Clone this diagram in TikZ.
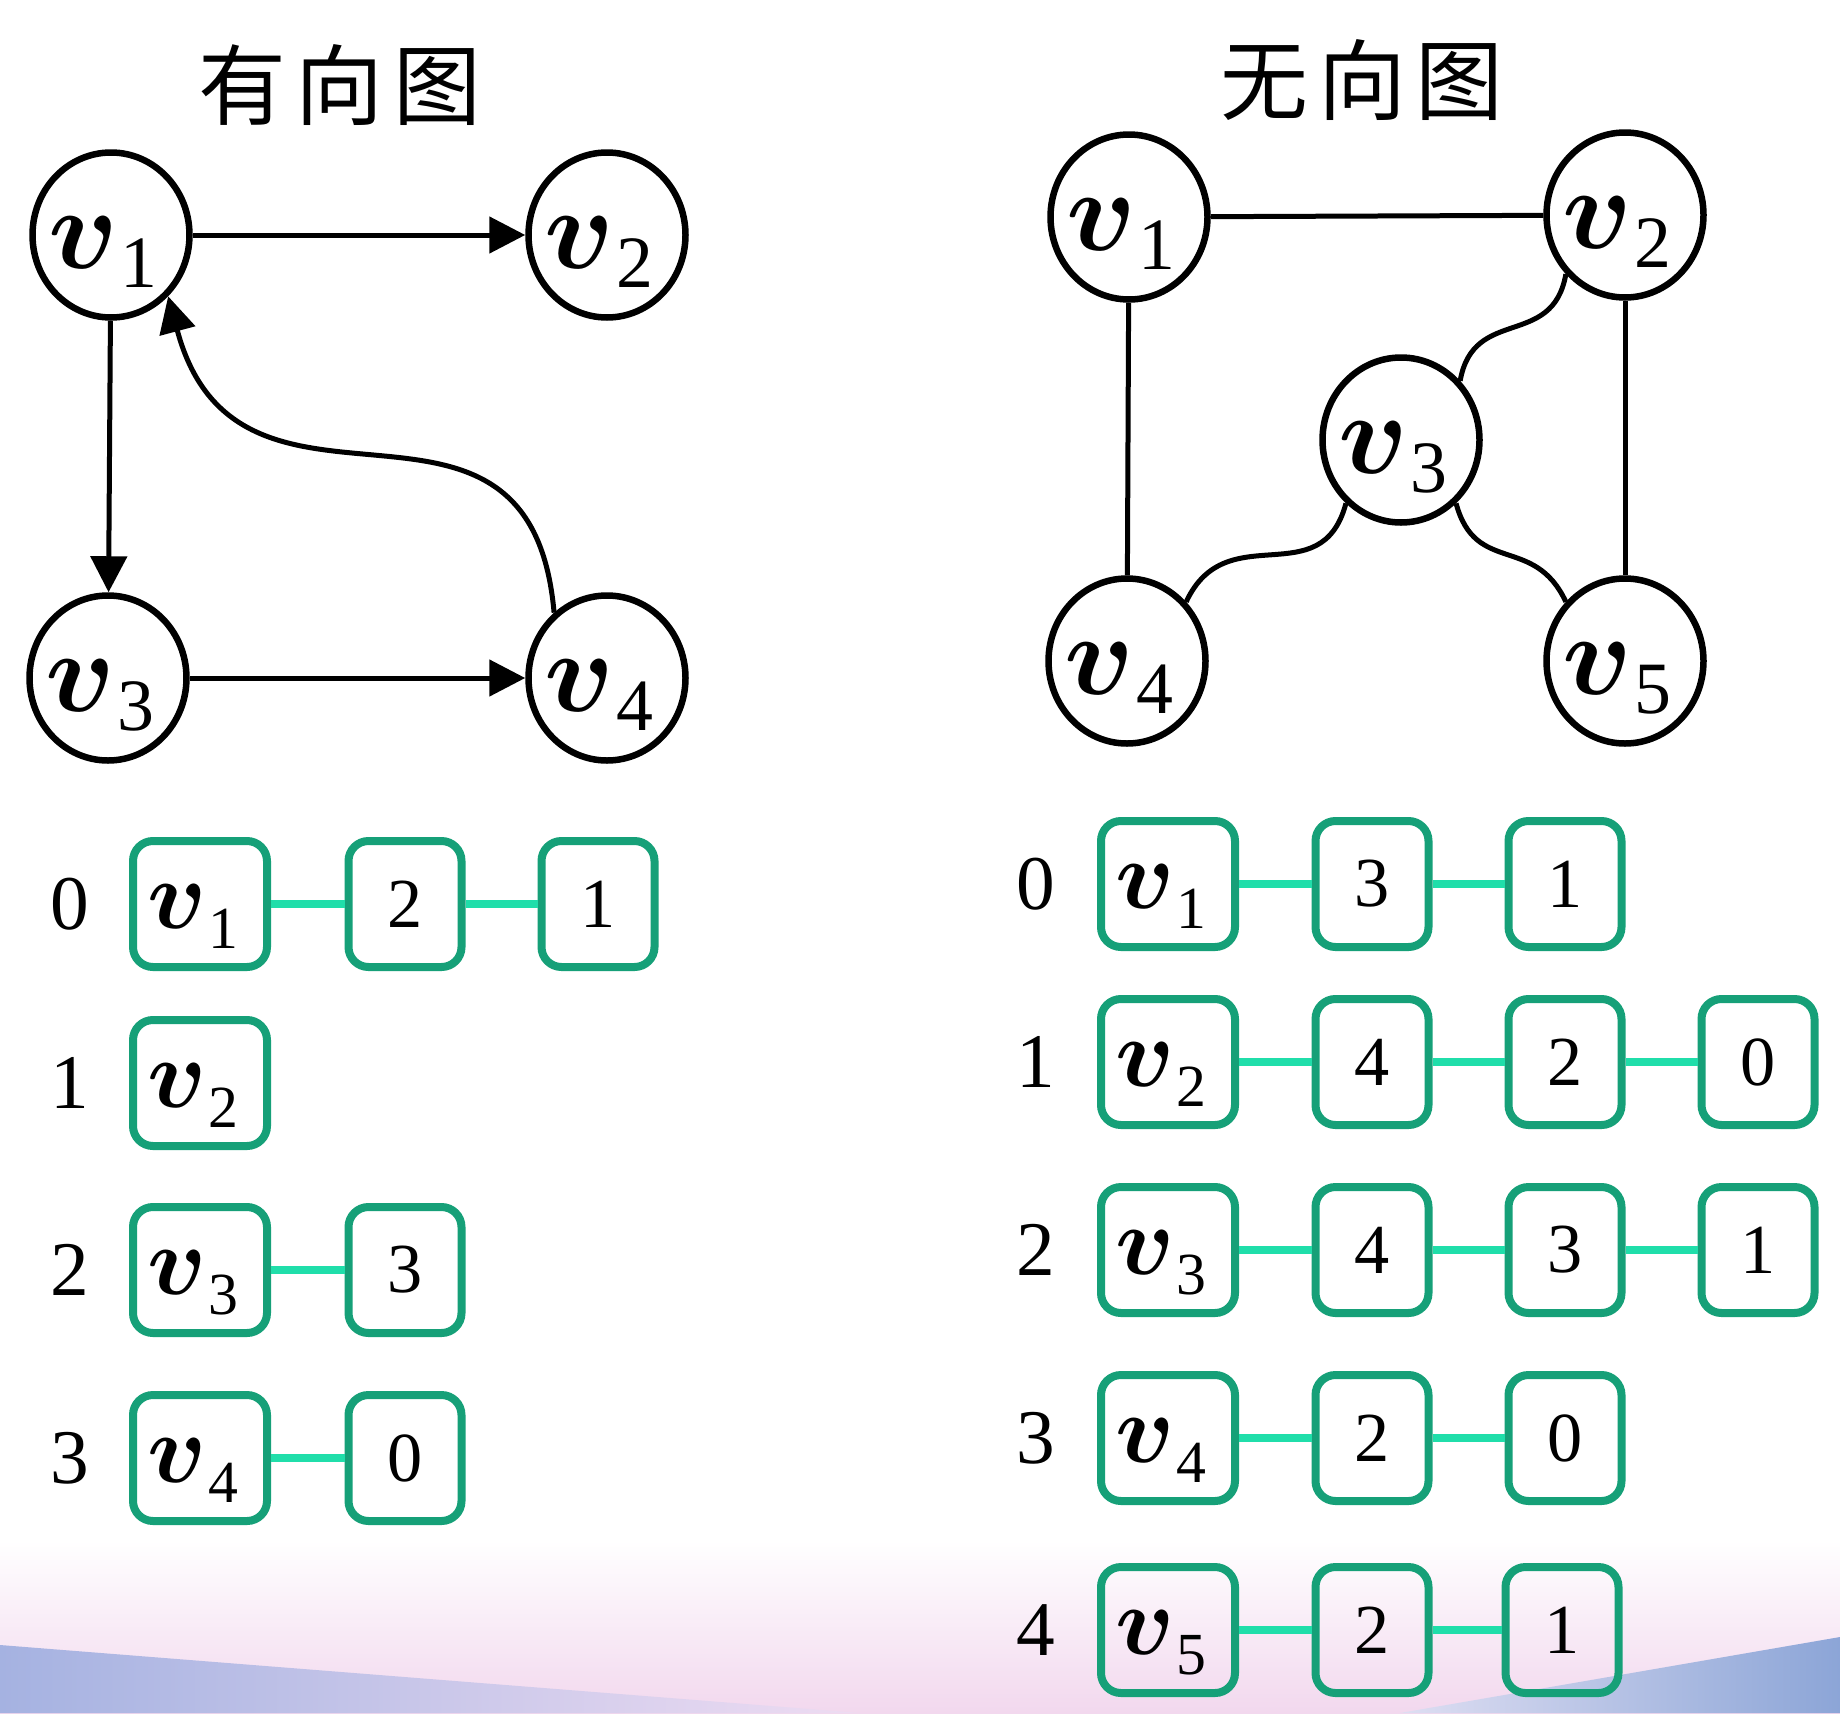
\RequirePackage{fix-cm}
\documentclass[tikz,border=0pt]{standalone}
\usepackage{bm}
\usepackage{fontspec}
\setmainfont{Liberation Serif}
\newfontfamily\cjk{Noto Sans CJK SC}
\usetikzlibrary{shapes.geometric,arrows.meta}
\definecolor{boxgreen}{RGB}{22,160,120}
\definecolor{linkgreen}{RGB}{32,222,170}
\definecolor{bgpink}{RGB}{242,216,238}
\definecolor{wlA}{RGB}{165,178,225}
\definecolor{wlB}{RGB}{238,220,242}
\definecolor{wrA}{RGB}{140,165,215}
\definecolor{wrB}{RGB}{222,222,242}
% graph node label
\newcommand{\gv}[1]{\makebox[0pt][c]{\raisebox{-3.3mm}[0pt][0pt]{%
  {\fontsize{33}{34}\selectfont$\bm{v}$}\kern0.2mm\raisebox{-1.9mm}{\fontsize{21}{22}\selectfont #1}}\hspace{1.6mm}}}
% list box label
\newcommand{\bv}[1]{\makebox[0pt][c]{\raisebox{-2.4mm}[0pt][0pt]{%
  {\fontsize{28}{29}\selectfont$\bm{v}$}\kern0.2mm\raisebox{-2.0mm}{\fontsize{17}{18}\selectfont #1}}\hspace{1.4mm}}}
\begin{document}
\begin{tikzpicture}[x=0.1mm,y=-0.1mm,
  gnode/.style={ellipse,draw,line width=0.65mm,minimum width=15.7mm,minimum height=16.5mm,inner sep=0pt},
  edge/.style={line width=0.5mm},
  arr/.style={edge,-{Triangle[length=3.6mm,width=3.6mm]}},
  hd/.style={inner sep=0pt,font=\fontsize{22}{24}\selectfont},
  vbox/.style={draw=boxgreen,line width=0.8mm,rounded corners=2mm,minimum width=13.4mm,minimum height=12.6mm,inner sep=0pt},
  nbox/.style={vbox,minimum width=11.3mm,font=\fontsize{20}{22}\selectfont},
  link/.style={draw=linkgreen,line width=0.8mm},
  title/.style={inner sep=0pt,font=\cjk\fontsize{25}{28}\selectfont}
]
\useasboundingbox (0,0) rectangle (1840,1713);
% background
\fill[white] (0,0) rectangle (1840,1713);
\shade[top color=white,bottom color=bgpink] (0,1540) rectangle (1840,1713);
\shade[left color=wlA,right color=wlB] (0,1645) -- (860,1713) -- (0,1713) -- cycle;
\shade[left color=wrB,right color=wrA] (1840,1637) -- (1400,1713) -- (1840,1713) -- cycle;

% titles
\node[title] (t1) at (340,85) {有\hspace{1mm}向\hspace{1mm}图};
\node[title] (t2) at (1362,80) {无\hspace{1mm}向\hspace{1mm}图};

% directed graph
\node[gnode] (a1) at (111,235) {\gv1};
\node[gnode] (a2) at (607,235) {\gv2};
\node[gnode] (a3) at (108,678) {\gv3};
\node[gnode] (a4) at (607,678) {\gv4};
\draw[arr] (a1) -- (a2);
\draw[arr] (a1) -- (a3);
\draw[arr] (a3) -- (a4);
\draw[arr] (a4.129) to[out=95,in=-75,looseness=1.4] (a1.-47);

% undirected graph
\node[gnode] (b1) at (1129,217) {\gv1};
\node[gnode] (b2) at (1625,215) {\gv2};
\node[gnode] (b3) at (1401,440) {\gv3};
\node[gnode] (b4) at (1127,661) {\gv4};
\node[gnode] (b5) at (1625,661) {\gv5};
\draw[edge] (b1) -- (b2);
\draw[edge] (b1) -- (b4);
\draw[edge] (b2) -- (b5);
\draw[edge] (b2.225) to[out=-100,in=80,looseness=1.3] (b3.45);
\draw[edge] (b3.229) to[out=-105,in=65,looseness=1.3] (b4.45);
\draw[edge] (b3.-49) to[out=-75,in=115,looseness=1.3] (b5.135);

% directed adjacency list
\node[hd] (li0) at (70,904) {0};
\node[vbox] (l00) at (200,904) {\bv1};
\node[nbox] (l01) at (405,904) {2};
\node[nbox] (l02) at (598,904) {1};
\draw[link] (l00) -- (l01);
\draw[link] (l01) -- (l02);

\node[hd] (li1) at (70,1083) {1};
\node[vbox] (l10) at (200,1083) {\bv2};

\node[hd] (li2) at (70,1270) {2};
\node[vbox] (l20) at (200,1270) {\bv3};
\node[nbox] (l21) at (405,1270) {3};
\draw[link] (l20) -- (l21);

\node[hd] (li3) at (70,1458) {3};
\node[vbox] (l30) at (200,1458) {\bv4};
\node[nbox] (l31) at (405,1458) {0};
\draw[link] (l30) -- (l31);

% undirected adjacency list
\node[hd] (ri0) at (1036,884) {0};
\node[vbox] (r00) at (1168,884) {\bv1};
\node[nbox] (r01) at (1372,884) {3};
\node[nbox] (r02) at (1565,884) {1};
\draw[link] (r00) -- (r01);
\draw[link] (r01) -- (r02);

\node[hd] (ri1) at (1036,1062) {1};
\node[vbox] (r10) at (1168,1062) {\bv2};
\node[nbox] (r11) at (1372,1062) {4};
\node[nbox] (r12) at (1565,1062) {2};
\node[nbox] (r13) at (1758,1062) {0};
\draw[link] (r10) -- (r11);
\draw[link] (r11) -- (r12);
\draw[link] (r12) -- (r13);

\node[hd] (ri2) at (1036,1250) {2};
\node[vbox] (r20) at (1168,1250) {\bv3};
\node[nbox] (r21) at (1372,1250) {4};
\node[nbox] (r22) at (1565,1250) {3};
\node[nbox] (r23) at (1758,1250) {1};
\draw[link] (r20) -- (r21);
\draw[link] (r21) -- (r22);
\draw[link] (r22) -- (r23);

\node[hd] (ri3) at (1036,1438) {3};
\node[vbox] (r30) at (1168,1438) {\bv4};
\node[nbox] (r31) at (1372,1438) {2};
\node[nbox] (r32) at (1565,1438) {0};
\draw[link] (r30) -- (r31);
\draw[link] (r31) -- (r32);

\node[hd] (ri4) at (1036,1630) {4};
\node[vbox] (r40) at (1168,1630) {\bv5};
\node[nbox] (r41) at (1372,1630) {2};
\node[nbox] (r42) at (1562,1630) {1};
\draw[link] (r40) -- (r41);
\draw[link] (r41) -- (r42);
\end{tikzpicture}
\end{document}
